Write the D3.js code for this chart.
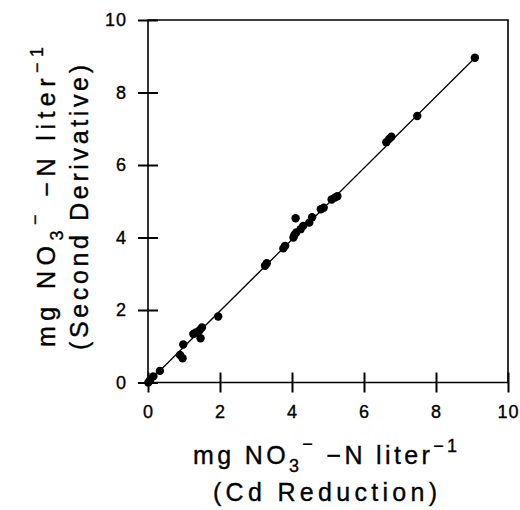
<!DOCTYPE html>
<html>
<head>
<meta charset="utf-8">
<script src="https://cdnjs.cloudflare.com/ajax/libs/d3/7.8.5/d3.min.js"></script>
<style>
  body { margin: 0; background: #fff; }
  text { font-family: "Liberation Sans", Arial, sans-serif; fill: #000; stroke: #000; stroke-width: 0.35px; }
</style>
</head>
<body>
<div id="chart"></div>
<script>
// values
var cdReduction      = [0.01, 0.06, 0.15, 0.33, 0.89, 0.96, 0.98, 1.26, 1.33, 1.46, 1.44, 1.50, 1.95,
                        3.25, 3.30, 3.76, 3.81, 4.04, 4.07, 4.12, 4.10, 4.24, 4.31, 4.48, 4.56,
                        4.80, 4.88, 5.10, 5.19, 5.26, 6.62, 6.70, 6.76, 7.48, 9.08];
var secondDerivative = [0.00, 0.07, 0.17, 0.32, 0.76, 0.67, 1.05, 1.34, 1.38, 1.22, 1.45, 1.52, 1.82,
                        3.22, 3.29, 3.70, 3.77, 4.00, 4.08, 4.14, 4.53, 4.23, 4.32, 4.41, 4.56,
                        4.78, 4.82, 5.05, 5.10, 5.14, 6.63, 6.72, 6.78, 7.35, 8.96];
var fitRange = [0, 9.05];
var fitSlope = 0.986, fitIntercept = 0.0;
var xTicks = [0, 2, 4, 6, 8, 10];
var yTicks = [0, 2, 4, 6, 8, 10];

(function() {
  var width = 520, height = 510;
  var left = 148, right = 508, top = 20, bottom = 382.5;

  var svg = d3.select("#chart").append("svg")
    .attr("width", width)
    .attr("height", height);

  var x = d3.scaleLinear().domain([0, 10]).range([left, right]);
  var y = d3.scaleLinear().domain([0, 10]).range([bottom, top]);

  // frame
  svg.append("path")
    .attr("d", "M" + left + "," + top + "H" + right + "V" + bottom + "H" + left + "Z")
    .attr("fill", "none")
    .attr("stroke", "#000")
    .attr("stroke-width", 1.6);

  // ticks cross the axes
  var xAxis = svg.append("g")
    .attr("transform", "translate(0," + (bottom + 10) + ")")
    .call(d3.axisBottom(x).tickValues(xTicks).tickSize(20).tickPadding(0).tickFormat(d3.format("d")));
  xAxis.select(".domain").remove();
  xAxis.selectAll(".tick line").attr("y1", -20).attr("y2", 0).attr("stroke-width", 2);
  xAxis.selectAll(".tick text")
    .attr("y", 13)
    .style("font-size", "18px")
    .style("letter-spacing", "1px");

  var yAxis = svg.append("g")
    .attr("transform", "translate(" + (left - 10) + ",0)")
    .call(d3.axisLeft(y).tickValues(yTicks).tickSize(0).tickPadding(11).tickFormat(d3.format("d")));
  yAxis.select(".domain").remove();
  yAxis.selectAll(".tick line").attr("x1", 0).attr("x2", 20).attr("stroke", "#000").attr("stroke-width", 2);
  yAxis.selectAll(".tick text")
    .style("font-size", "18px")
    .style("letter-spacing", "1px");

  // fitted line
  var line = d3.line()
    .x(function(d) { return x(d); })
    .y(function(d) { return y(fitIntercept + fitSlope * d); });
  svg.append("path")
    .datum(fitRange)
    .attr("d", line)
    .attr("fill", "none")
    .attr("stroke", "#000")
    .attr("stroke-width", 1.3);

  // points
  svg.selectAll(".pt")
    .data(cdReduction)
    .enter().append("circle")
    .attr("class", "pt")
    .attr("cx", function(d) { return x(d); })
    .attr("cy", function(d, i) { return y(secondDerivative[i]); })
    .attr("r", 4.2)
    .attr("fill", "#000");

  // axis titles
  function unitLabel(t) {
    t.append("tspan").text("mg  NO");
    t.append("tspan").attr("dy", 8).style("font-size", "18px").text("3");
    t.append("tspan").attr("dy", -22).style("font-size", "18px").text("\u2212");
    t.append("tspan").attr("dy", 14).text(" \u2212N  liter");
    t.append("tspan").attr("dy", -12).style("font-size", "18px").text("\u22121");
  }

  var xt = svg.append("text")
    .attr("x", 193).attr("y", 464)
    .attr("textLength", 264).attr("lengthAdjust", "spacing")
    .style("font-size", "25px");
  unitLabel(xt);
  svg.append("text")
    .attr("x", 213).attr("y", 501)
    .attr("textLength", 224).attr("lengthAdjust", "spacing")
    .style("font-size", "25px")
    .text("(Cd Reduction)");

  var yt = svg.append("text")
    .attr("transform", "translate(55,347) rotate(-90)")
    .attr("textLength", 300).attr("lengthAdjust", "spacing")
    .style("font-size", "25px");
  unitLabel(yt);
  svg.append("text")
    .attr("transform", "translate(88,350) rotate(-90)")
    .attr("textLength", 285).attr("lengthAdjust", "spacing")
    .style("font-size", "25px")
    .text("(Second Derivative)");
})();
</script>
</body>
</html>
